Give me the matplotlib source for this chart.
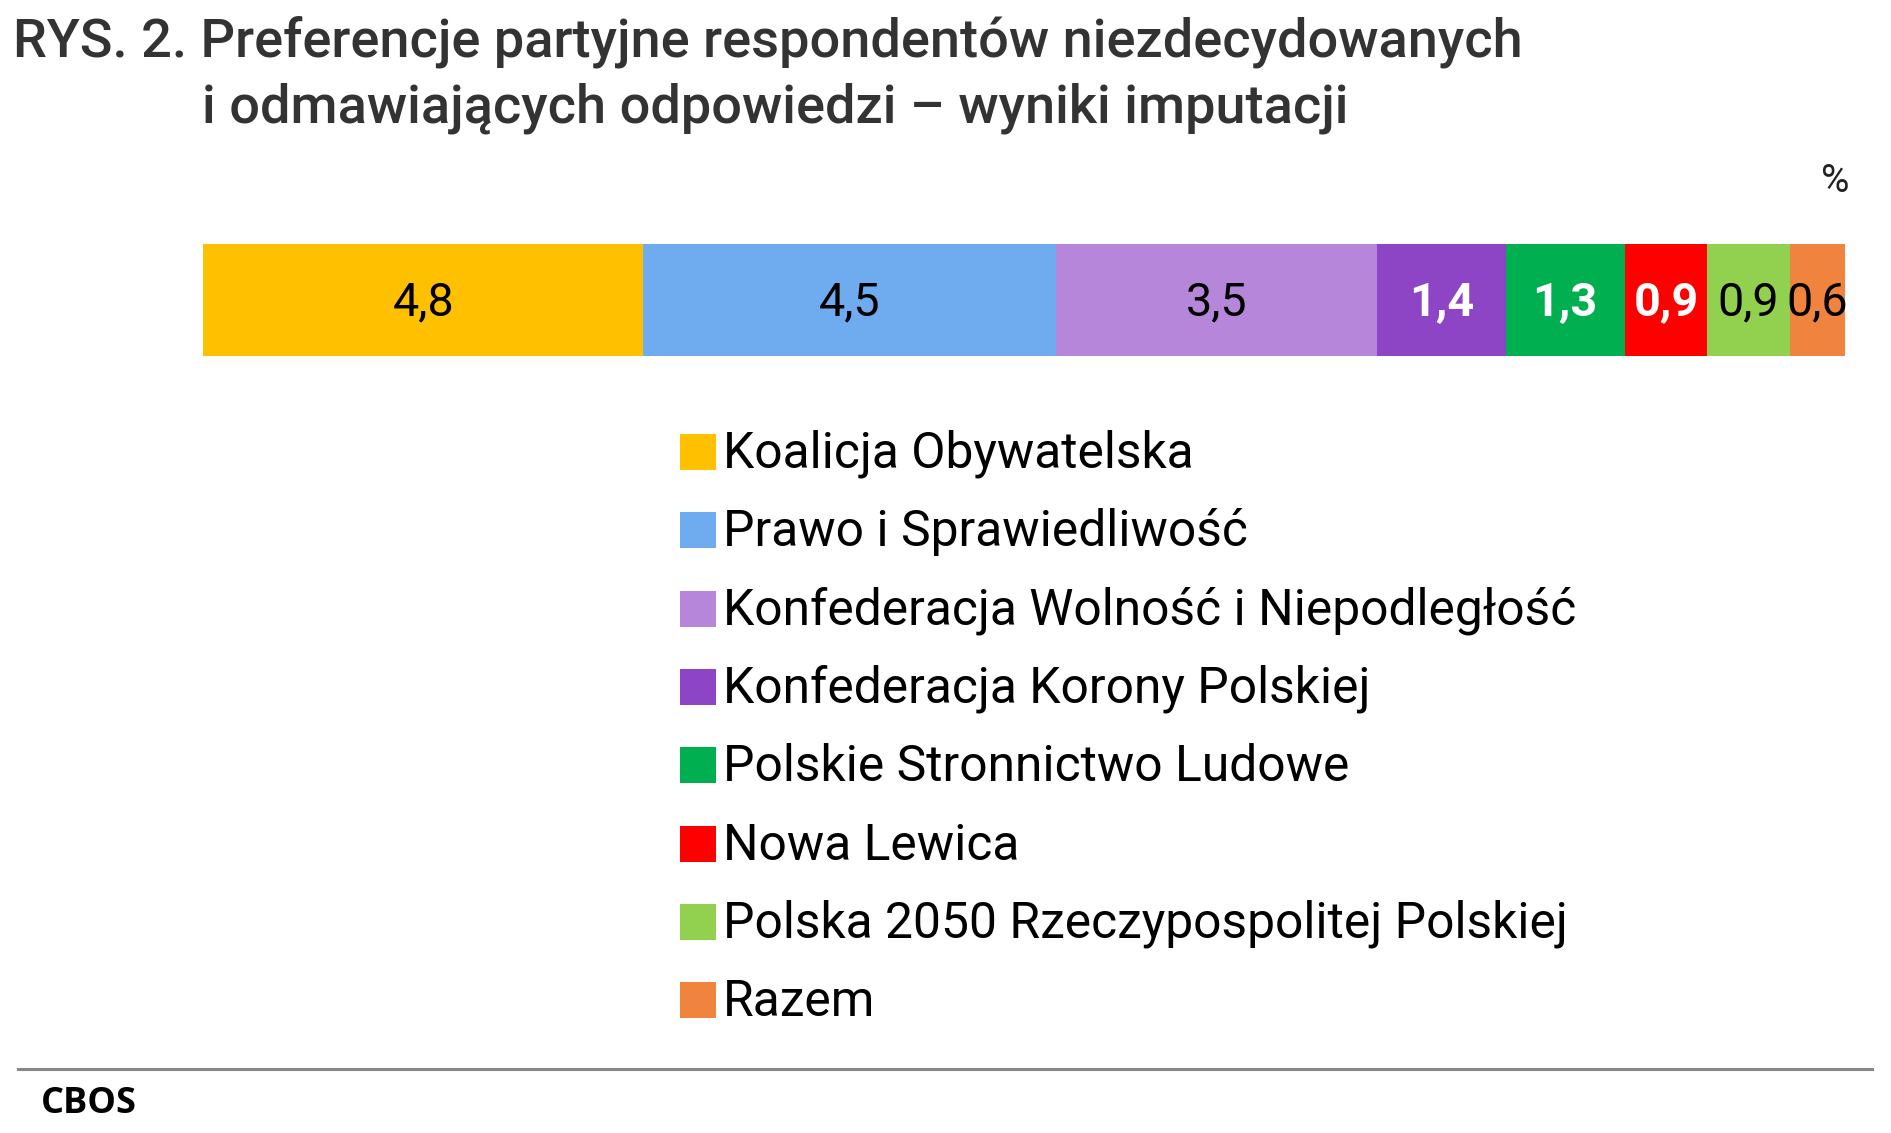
import matplotlib
matplotlib.use("Agg")
import matplotlib.pyplot as plt
from matplotlib.patches import Rectangle
from matplotlib.lines import Line2D

parties = ["Koalicja Obywatelska", "Prawo i Sprawiedliwość",
           "Konfederacja Wolność i Niepodległość", "Konfederacja Korony Polskiej",
           "Polskie Stronnictwo Ludowe", "Nowa Lewica",
           "Polska 2050 Rzeczypospolitej Polskiej", "Razem"]
values = [4.8, 4.5, 3.5, 1.4, 1.3, 0.9, 0.9, 0.6]
labels = ["4,8", "4,5", "3,5", "1,4", "1,3", "0,9", "0,9", "0,6"]
colors = ["#FFC000", "#6FACEF", "#B586D9", "#8E45C5",
          "#00AF50", "#FF0000", "#92D050", "#F0843F"]
label_white = [False, False, False, True, True, True, False, False]

W, H = 1891, 1133
DPI = 100
fig = plt.figure(figsize=(W / DPI, H / DPI), dpi=DPI)
fig.patch.set_facecolor("white")

def fx(px):
    return px / W

def fy(py):
    return 1 - py / H

# Title
title_kw = dict(family="Roboto", weight="medium", color="#333333", fontsize=39, va="baseline", ha="left")
fig.text(fx(13), fy(57), "RYS. 2. Preferencje partyjne respondentów niezdecydowanych", **title_kw)
fig.text(fx(202), fy(122), "i odmawiających odpowiedzi – wyniki imputacji", **title_kw)

# % sign
fig.text(fx(1835), fy(181), "%", family="Roboto", fontsize=28, color="#222222", ha="center", va="center")

# Stacked bar
bl, br, bt, bb = 203, 1845, 244, 356
ax = fig.add_axes([fx(bl), fy(bb), fx(br - bl), (bb - bt) / H])
left = 0.0
for v, lab, c, wht in zip(values, labels, colors, label_white):
    ax.barh(0, v, left=left, height=1.0, color=c, edgecolor="none")
    ax.annotate(lab, (left + v / 2, 0), xytext=(0, -11), textcoords="offset points",
                ha="center", va="baseline", family="Roboto", fontsize=33.7,
                color="white" if wht else "black", weight="bold" if wht else "normal",
                annotation_clip=False)
    left += v
ax.set_xlim(0, sum(values))
ax.set_ylim(-0.5, 0.5)
ax.axis("off")

# Legend (manual)
row0 = 468
step = 78.3
for i, (p, c) in enumerate(zip(parties, colors)):
    base = row0 + i * step
    fig.patches.append(Rectangle((fx(680), fy(base + 2)), fx(36), 36 / H,
                                 transform=fig.transFigure, facecolor=c, edgecolor="none"))
    fig.text(fx(723), fy(base), p, family="Roboto", fontsize=35.8, color="black",
             ha="left", va="baseline")

# Separator line and source
fig.add_artist(Line2D([fx(18), fx(1872)], [fy(1069), fy(1069)], color="#888888", lw=2.2,
                      transform=fig.transFigure))
fig.text(fx(41), fy(1104), "CBOS", family="Open Sans", weight="bold", fontsize=26,
         color="black", ha="left", va="center")

fig.savefig("out.png", dpi=DPI)
